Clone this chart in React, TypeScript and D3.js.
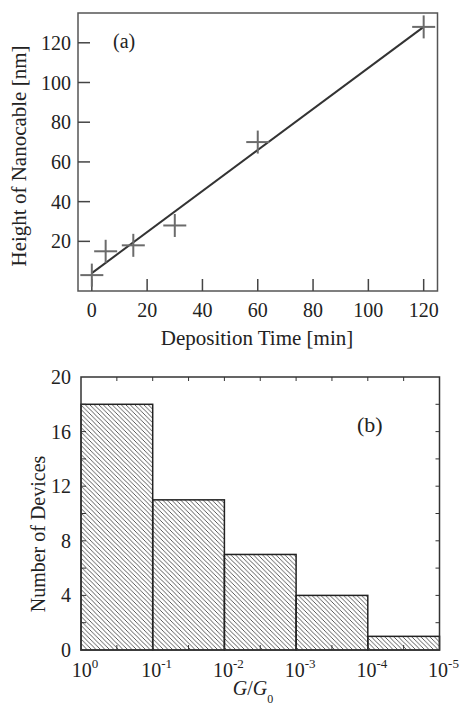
import React from "react";
import * as d3 from "d3";

// (a) nanocable height vs deposition time
const depTime = [0, 5, 15, 30, 60, 120];
const cableHeight = [3, 15, 18, 28, 70, 128];
const fitTime = [0, 120];
const fitHeight = [4, 128];
const timeTicks = [0, 20, 40, 60, 80, 100, 120];
const heightTicks = [20, 40, 60, 80, 100, 120];

// (b) histogram of conductance
const binEdges = [1e0, 1e-1, 1e-2, 1e-3, 1e-4, 1e-5];
const binExps = ["0", "-1", "-2", "-3", "-4", "-5"];
const deviceCounts = [18, 11, 7, 4, 1];
const countTicks = [0, 4, 8, 12, 16, 20];

const FONT = "'Liberation Serif', 'Times New Roman', serif";

const App = () => {
  // top panel
  const xa = d3.scaleLinear().domain([-5, 125]).range([78, 437.5]);
  const ya = d3.scaleLinear().domain([-5, 135]).range([291, 13]);
  const fitLine = d3
    .line<number>()
    .x((d, i) => xa(fitTime[i]))
    .y(d => ya(d));

  // bottom panel
  const xb = d3.scaleLog().domain([1, 1e-5]).range([81, 439.5]);
  const yb = d3.scaleLinear().domain([0, 20]).range([650, 377]);
  const halfDecades = d3.range(0, 5).map(k => Math.pow(10, -k - 0.5));
  const evenCounts = d3.range(2, 20, 2);

  const [ax0, ax1] = xa.range();
  const [ay0, ay1] = ya.range();
  const [bx0, bx1] = xb.range();
  const [by0, by1] = yb.range();

  return (
    <svg
      width={461}
      height={707}
      style={{ position: "absolute", left: 0, top: 0, background: "#fff" }}
      fontFamily={FONT}
    >
      <defs>
        <pattern id="hatch" patternUnits="userSpaceOnUse" width={4.5} height={4.5}>
          <path
            d="M-1,-1 L5.5,5.5 M-1,3.5 L1,5.5 M3.5,-1 L5.5,1"
            stroke="#333"
            strokeWidth={0.8}
          />
        </pattern>
      </defs>

      {/* ---------- panel (a) ---------- */}
      <rect
        x={ax0}
        y={ay1}
        width={ax1 - ax0}
        height={ay0 - ay1}
        fill="none"
        stroke="#555"
        strokeWidth={1.5}
      />
      {timeTicks.map(t => (
        <g key={"xt" + t}>
          <line x1={xa(t)} x2={xa(t)} y1={ay0} y2={ay0 - 12} stroke="#444" strokeWidth={1.5} />
          <text x={xa(t)} y={317} fontSize={20} textAnchor="middle" fill="#222">
            {t}
          </text>
        </g>
      ))}
      {heightTicks.map(t => (
        <g key={"yt" + t}>
          <line x1={ax0} x2={ax0 + 12} y1={ya(t)} y2={ya(t)} stroke="#444" strokeWidth={1.5} />
          <text x={71} y={ya(t)} dy="0.35em" fontSize={20} textAnchor="end" fill="#222">
            {t}
          </text>
        </g>
      ))}
      <path d={fitLine(fitHeight) || ""} fill="none" stroke="#333" strokeWidth={2} />
      {depTime.map((t, i) => (
        <g key={"pt" + i} stroke="#6b6b6b" strokeWidth={2}>
          <line x1={xa(t) - 11.5} x2={xa(t) + 11.5} y1={ya(cableHeight[i])} y2={ya(cableHeight[i])} />
          <line x1={xa(t)} x2={xa(t)} y1={ya(cableHeight[i]) - 11.5} y2={ya(cableHeight[i]) + 11.5} />
        </g>
      ))}
      <text x={113} y={48} fontSize={20} fill="#222">
        (a)
      </text>
      <text x={257} y={345} fontSize={21} textAnchor="middle" fill="#222">
        Deposition Time [min]
      </text>
      <text
        transform="translate(26,156) rotate(-90)"
        fontSize={21}
        textAnchor="middle"
        fill="#222"
      >
        Height of Nanocable [nm]
      </text>

      {/* ---------- panel (b) ---------- */}
      {deviceCounts.map((c, i) => (
        <rect
          key={"bar" + i}
          x={xb(binEdges[i])}
          y={yb(c)}
          width={xb(binEdges[i + 1]) - xb(binEdges[i])}
          height={yb(0) - yb(c)}
          fill="url(#hatch)"
          stroke="#222"
          strokeWidth={1.5}
        />
      ))}
      <rect
        x={bx0}
        y={by1}
        width={bx1 - bx0}
        height={by0 - by1}
        fill="none"
        stroke="#333"
        strokeWidth={1.5}
      />
      {evenCounts.map(c => (
        <g key={"yc" + c} stroke="#333" strokeWidth={1}>
          <line x1={bx0} x2={bx0 + 5} y1={yb(c)} y2={yb(c)} />
          <line x1={bx1} x2={bx1 - 4} y1={yb(c)} y2={yb(c)} />
        </g>
      ))}
      {halfDecades.concat(binEdges.slice(1, -1)).map((v, i) => (
        <g key={"xh" + i} stroke="#333" strokeWidth={1}>
          <line x1={xb(v)} x2={xb(v)} y1={by0} y2={by0 - 5} />
          <line x1={xb(v)} x2={xb(v)} y1={by1} y2={by1 + 4} />
        </g>
      ))}
      {countTicks.map(c => (
        <text key={"cl" + c} x={71} y={yb(c)} dy="0.35em" fontSize={20} textAnchor="end" fill="#222">
          {c}
        </text>
      ))}
      {binEdges.map((v, i) => (
        <text key={"bl" + i} x={xb(v) + 4} y={677} fontSize={20} textAnchor="middle" fill="#222">
          10
          <tspan fontSize={13} dy={-9}>
            {binExps[i]}
          </tspan>
        </text>
      ))}
      <text x={357} y={432} fontSize={22} fill="#222">
        (b)
      </text>
      <text x={253} y={695} fontSize={20} textAnchor="middle" fill="#222">
        <tspan fontStyle="italic">G</tspan>/<tspan fontStyle="italic">G</tspan>
        <tspan fontSize={12} dy={8}>
          0
        </tspan>
      </text>
      <text
        transform="translate(45,534) rotate(-90)"
        fontSize={20}
        textAnchor="middle"
        fill="#222"
      >
        Number of Devices
      </text>
    </svg>
  );
};

export default App;
